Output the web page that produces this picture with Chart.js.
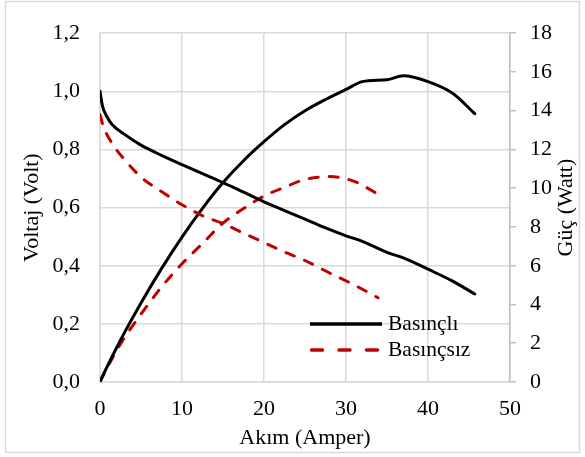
<!DOCTYPE html>
<html>
<head>
<meta charset="utf-8">
<script src="https://cdn.jsdelivr.net/npm/chart.js@4.4.1/dist/chart.umd.min.js"></script>
<style>
  html, body { margin: 0; padding: 0; background: #ffffff; }
  #c { display: block; }
</style>
</head>
<body>
<canvas id="c" width="585" height="457"></canvas>
<script>
// ---- Data ----
const akimBasincli   = [0, 0.3, 0.8, 1.5, 3, 5, 7.5, 10, 12.5, 15, 17.5, 20, 22.5, 25, 27.5, 30, 32, 35, 37, 40, 43, 45.7];
const voltajBasincli = [1.00, 0.95, 0.915, 0.885, 0.852, 0.815, 0.78, 0.748, 0.717, 0.686, 0.653, 0.62, 0.59, 0.56, 0.53, 0.503, 0.484, 0.446, 0.427, 0.388, 0.347, 0.303];
const gucBasincli    = [0, 0.29, 0.73, 1.33, 2.56, 4.08, 5.85, 7.48, 8.96, 10.29, 11.42, 12.4, 13.28, 14.0, 14.58, 15.1, 15.5, 15.6, 15.8, 15.5, 14.9, 13.85];

const akimBasincsiz   = [0, 0.4, 1.5, 3, 5, 7.5, 10, 12.5, 15, 17.5, 20, 22.5, 25, 28, 31, 33.9];
const voltajBasincsiz = [0.92, 0.88, 0.82, 0.765, 0.705, 0.655, 0.61, 0.572, 0.545, 0.512, 0.48, 0.447, 0.418, 0.375, 0.334, 0.29];
const gucBasincsiz    = [0, 0.35, 1.23, 2.3, 3.5, 4.9, 6.1, 7.15, 8.2, 8.95, 9.6, 10.05, 10.45, 10.6, 10.35, 9.7];

const xTicks = [0, 10, 20, 30, 40, 50];
const seriesNames = ['Basınçlı', 'Basınçsız'];
const axisTitles = { x: 'Akım (Amper)', y: 'Voltaj (Volt)', y1: 'Güç (Watt)' };

const FONT = 'Liberation Serif, Times New Roman, serif';
const FSIZE = 22;
const GRID = '#d9d9d9';

function pts(xs, ys) { return xs.map((x, i) => ({ x: x, y: ys[i] })); }

const BLACK = '#000000';
const RED = '#c00000';
const DASH = [9, 11];

const datasets = [
  { label: seriesNames[0], data: pts(akimBasincli, voltajBasincli), yAxisID: 'y', borderColor: BLACK, borderWidth: 3, showLegend: true },
  { label: seriesNames[1], data: pts(akimBasincsiz, voltajBasincsiz), yAxisID: 'y', borderColor: RED, borderWidth: 3, borderDash: DASH, showLegend: true },
  { label: seriesNames[0] + ' (Güç)', data: pts(akimBasincli, gucBasincli), yAxisID: 'y1', borderColor: BLACK, borderWidth: 3 },
  { label: seriesNames[1] + ' (Güç)', data: pts(akimBasincsiz, gucBasincsiz), yAxisID: 'y1', borderColor: RED, borderWidth: 3, borderDash: DASH }
].map(d => Object.assign({
  pointRadius: 0, pointHoverRadius: 0, fill: false,
  cubicInterpolationMode: 'monotone', borderCapStyle: 'round', borderJoinStyle: 'round'
}, d));

const framePlugin = {
  id: 'frame',
  afterDraw(chart) {
    const ctx = chart.ctx;
    const area = chart.chartArea;
    ctx.save();
    ctx.strokeStyle = GRID;
    ctx.lineWidth = 1.5;
    ctx.strokeRect(5.5, 1.5, 574, 451);

    ctx.fillStyle = '#000';
    ctx.font = FSIZE + 'px ' + FONT;
    ctx.textAlign = 'center';
    ctx.textBaseline = 'middle';
    ctx.translate(566, (area.top + area.bottom) / 2);
    ctx.rotate(-Math.PI / 2);
    ctx.fillText(axisTitles.y1, 0, 0);
    ctx.restore();

    ctx.save();
    const legendItems = chart.data.datasets.filter(d => d.showLegend);
    const x0 = 310, x1 = 382, tx = 388;
    const rows = [324, 350];
    legendItems.forEach((d, i) => {
      const y = rows[i];
      ctx.strokeStyle = d.borderColor;
      ctx.lineWidth = 3.5;
      ctx.lineCap = d.borderDash ? 'round' : 'butt';
      ctx.setLineDash(d.borderDash ? [11, 16.5] : []);
      ctx.beginPath();
      ctx.moveTo(x0 + (d.borderDash ? 1.5 : 0), y);
      ctx.lineTo(x1, y);
      ctx.stroke();
      ctx.setLineDash([]);
      ctx.fillStyle = '#000';
      ctx.font = '21.5px ' + FONT;
      ctx.textAlign = 'left';
      ctx.textBaseline = 'middle';
      ctx.fillText(d.label, tx, y);
    });
    ctx.restore();
  }
};

new Chart(document.getElementById('c'), {
  type: 'line',
  data: { datasets: datasets },
  options: {
    responsive: false,
    animation: false,
    devicePixelRatio: 1,
    layout: { padding: { top: 15, left: 0, right: 0, bottom: 0 } },
    plugins: { legend: { display: false }, tooltip: { enabled: false } },
    scales: {
      x: {
        type: 'linear', min: 0, max: 50,
        afterBuildTicks(s) { s.ticks = xTicks.map(v => ({ value: v })); },
        afterFit(s) { s.height = 75; },
        ticks: { color: '#000', font: { family: FONT, size: FSIZE }, padding: 14, maxRotation: 0 },
        grid: { color: GRID, lineWidth: 1.5, drawTicks: false },
        border: { color: GRID, width: 1.5 },
        title: { display: true, text: axisTitles.x, color: '#000', font: { family: FONT, size: FSIZE }, padding: { top: 0, bottom: 6 } }
      },
      y: {
        type: 'linear', position: 'left', min: 0, max: 1.2,
        ticks: { stepSize: 0.2, color: '#000', font: { family: FONT, size: FSIZE }, padding: 20,
          callback: v => v.toFixed(1).replace('.', ',') },
        afterFit(s) { s.width = 100; },
        grid: { color: GRID, lineWidth: 1.5, drawTicks: false },
        border: { color: GRID, width: 1.5 },
        title: { display: true, text: axisTitles.y, color: '#000', font: { family: FONT, size: FSIZE }, padding: { top: 19, bottom: 0 } }
      },
      y1: {
        type: 'linear', position: 'right', min: 0, max: 18,
        ticks: { stepSize: 2, color: '#000', font: { family: FONT, size: FSIZE }, padding: 14 },
        afterFit(s) { s.width = 75; },
        grid: { drawOnChartArea: false, color: '#bfbfbf', lineWidth: 1.5, drawTicks: true, tickLength: 6 },
        border: { color: '#bfbfbf', width: 1.5 }
      }
    }
  },
  plugins: [framePlugin]
});
</script>
</body>
</html>
